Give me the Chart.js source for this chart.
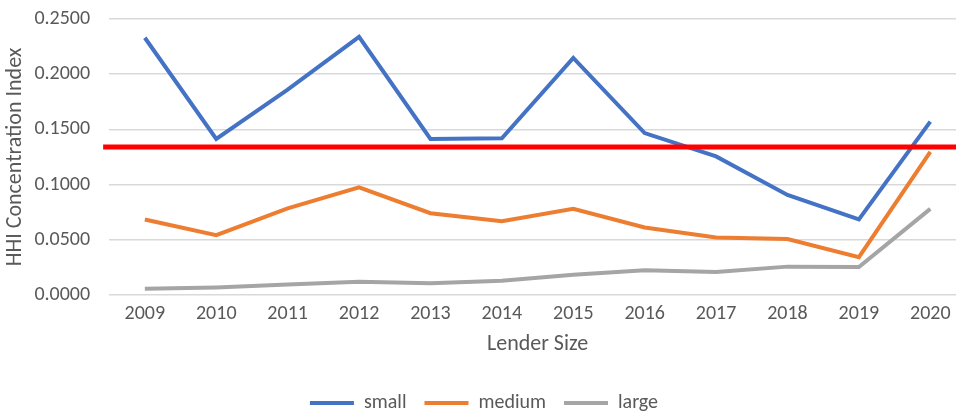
<!DOCTYPE html>
<html>
<head>
<meta charset="utf-8">
<script src="https://cdn.jsdelivr.net/npm/chart.js@4/dist/chart.umd.min.js"></script>
<style>
  html, body { margin: 0; padding: 0; background: #fff; overflow: hidden; }
  #wrap { width: 966px; height: 411px; }
</style>
</head>
<body>
<div id="wrap"><canvas id="myChart"></canvas></div>
<script>
const years = ['2009', '2010', '2011', '2012', '2013', '2014', '2015', '2016', '2017', '2018', '2019', '2020'];
const small = [0.233, 0.1413, 0.186, 0.2338, 0.1413, 0.1419, 0.2148, 0.1467, 0.1255, 0.0906, 0.0684, 0.157];
const medium = [0.0684, 0.0542, 0.0785, 0.0976, 0.0741, 0.0668, 0.078, 0.0611, 0.052, 0.0507, 0.0342, 0.1296];
const large = [0.0057, 0.0069, 0.0095, 0.012, 0.0107, 0.013, 0.0184, 0.0225, 0.0209, 0.0257, 0.0254, 0.078];
const threshold = 0.134;

const fontFamily = "Carlito, Calibri, 'Liberation Sans', sans-serif";
const textColor = '#595959';

// red threshold line across the whole plot
const thresholdLine = {
  id: 'thresholdLine',
  afterDatasetsDraw(chart) {
    const { ctx, chartArea, scales } = chart;
    const y = scales.y.getPixelForValue(threshold);
    ctx.save();
    ctx.strokeStyle = '#ff0000';
    ctx.lineWidth = 5;
    ctx.beginPath();
    ctx.moveTo(chartArea.left - 6, y);
    ctx.lineTo(chartArea.right, y);
    ctx.stroke();
    ctx.restore();
  }
};

const ctx = document.getElementById('myChart');

new Chart(ctx, {
  type: 'line',
  data: {
    labels: years,
    datasets: [
      { label: 'small', data: small, borderColor: '#4472c4', backgroundColor: '#4472c4', borderWidth: 4, pointRadius: 0, tension: 0 },
      { label: 'medium', data: medium, borderColor: '#ed7d31', backgroundColor: '#ed7d31', borderWidth: 4, pointRadius: 0, tension: 0 },
      { label: 'large', data: large, borderColor: '#a5a5a5', backgroundColor: '#a5a5a5', borderWidth: 4, pointRadius: 0, tension: 0 }
    ]
  },
  options: {
    responsive: true,
    maintainAspectRatio: false,
    animation: false,
    layout: { padding: { top: 0, right: 0, left: 2, bottom: -12 } },
    plugins: {
      tooltip: { enabled: false },
      legend: {
        position: 'bottom',
        labels: {
          usePointStyle: true,
          pointStyle: 'line',
          pointStyleWidth: 44,
          color: textColor,
          font: { family: fontFamily, size: 20 },
          padding: 18
        }
      }
    },
    scales: {
      x: {
        offset: true,
        grid: { display: false, drawTicks: false },
        border: { display: false },
        ticks: { color: textColor, font: { family: fontFamily, size: 20, lineHeight: 1 }, padding: 9, maxRotation: 0 },
        title: { display: true, text: 'Lender Size', color: textColor, font: { family: fontFamily, size: 22, lineHeight: 1 }, padding: { top: 0, bottom: 20 } }
      },
      y: {
        min: 0,
        max: 0.25,
        grid: { color: '#d9d9d9', lineWidth: 1.5, drawTicks: false },
        border: { display: false },
        ticks: {
          stepSize: 0.05,
          color: textColor,
          font: { family: fontFamily, size: 20 },
          padding: 19,
          callback: v => Number(v).toFixed(4)
        },
        title: { display: true, text: 'HHI Concentration Index', color: textColor, font: { family: fontFamily, size: 22 }, padding: { top: 0, bottom: 2 } },
        afterFit: s => { s.paddingTop = 19; s.width -= 15; }
      }
    }
  },
  plugins: [thresholdLine]
});
</script>
</body>
</html>
